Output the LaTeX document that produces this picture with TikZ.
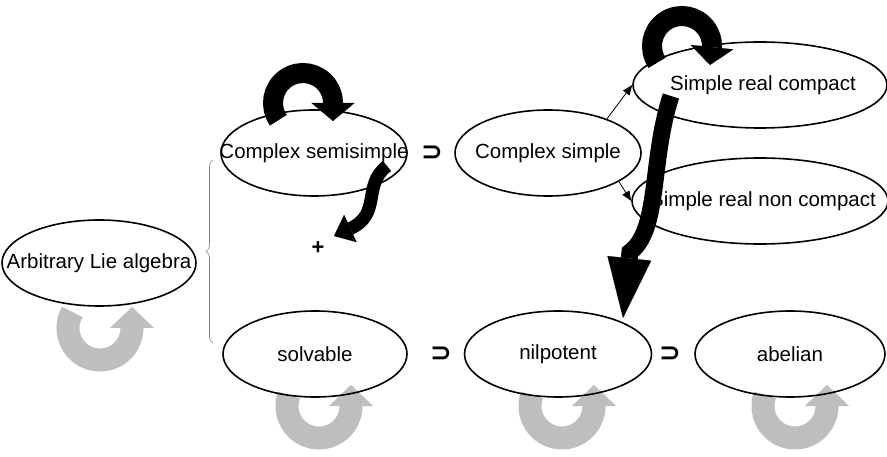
\documentclass[tikz,border=0pt]{standalone}
\usepackage{fontspec}
\setmainfont{Liberation Sans}
\newfontfamily\symfont{DejaVu Sans}
\usetikzlibrary{shapes.geometric,arrows.meta,decorations.pathreplacing}
\definecolor{loopgray}{RGB}{190,190,190}

\begin{document}
\begin{tikzpicture}[x=1pt,y=-1pt,
    font=\fontsize{20.5}{24}\selectfont,
    blob/.style={ellipse,draw,line width=1.6pt,minimum width=#1,minimum height=86pt,inner sep=0pt},
    grayloop/.style={loopgray,line width=23pt,-{Triangle[length=21pt,width=44pt,line width=0.1pt]}},
    blackloop/.style={black,line width=20pt,-{Triangle[length=18pt,width=43pt,line width=0.1pt]}},
    twist/.style={black,line width=#1},
    thinarrow/.style={line width=0.8pt,-{Triangle[length=10pt,width=8pt]}},
    incl/.style={font=\symfont\bfseries\fontsize{26}{28}\selectfont}]
\useasboundingbox (0,0) rectangle (887,457);
% Grey loops under the nodes
\draw[grayloop] (100,328) ++(210:32) arc[start angle=210,end angle=0,radius=32] -- ++(0,-21);
\foreach \cx in {319,562,795}
    \draw[grayloop] (\cx,406) ++(200:32) arc[start angle=200,end angle=0,radius=32] -- ++(0,-21);
% Classes
\node[blob=194pt] (arb) at (99,263) {\makebox[0pt]{Arbitrary Lie algebra}};
\node[blob=186pt] (csemi) at (314,153) {\makebox[0pt]{Complex semisimple}};
\node[blob=186pt] (csimple) at (548,153) {\makebox[0pt]{Complex simple}};
\node[blob=254pt] (compact) at (760,85) {\makebox[0pt]{\hspace{6pt}Simple real compact}};
\node[blob=256pt] (noncompact) at (760,201) {\makebox[0pt]{\hspace{6pt}Simple real non compact}};
\node[blob=184pt] (solv) at (315,354) {\makebox[0pt]{solvable}};
\node[blob=187pt] (nilp) at (558,354) {\makebox[0pt]{nilpotent}};
\node[blob=190pt] (abel) at (790,354) {\makebox[0pt]{abelian}};
% Inclusions
\node[incl] (sup1) at (432,153) {⊃};
\node[incl] (sup2) at (441,354) {⊃};
\node[incl] (sup3) at (670,354) {⊃};
\node[font=\bfseries\fontsize{22}{24}\selectfont] (plus) at (318,248) {+};
% Brace
\coordinate (bracebot) at (213,343);
\coordinate (bracetop) at (213,160);
\draw[gray,line width=0.6pt,decorate,decoration={brace,amplitude=7pt}] (bracebot) -- (bracetop);
% Thin arrows
\draw[thinarrow] (csimple.30) -- (compact.west);
\draw[thinarrow] (csimple.-22) -- (noncompact.west);
% Black loops and twists
\draw[blackloop] (303,103) ++(145:30) arc[start angle=145,end angle=360,radius=30] -- ++(0,18);
\draw[blackloop] (682,46) ++(146:30) arc[start angle=146,end angle=360,radius=30] -- ++(-2,19);
\draw[twist=13pt,-{Triangle[length=18pt,width=30pt,line width=0.1pt]}] (387,166) .. controls (362,185) and (382,214) .. (334,236);
\draw[twist=17pt,-{Triangle[length=60pt,width=44pt,line width=0.1pt]}] (671,96) .. controls (650,160) and (660,230) .. (630,252) -- (623,318);
\end{tikzpicture}
\end{document}
